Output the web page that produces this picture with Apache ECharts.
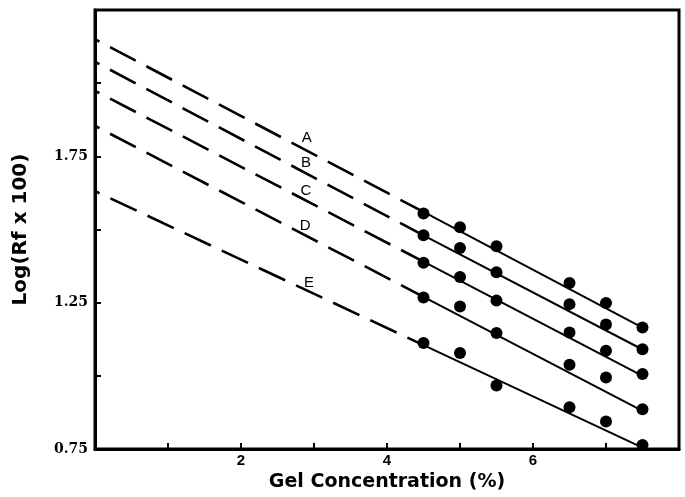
<!DOCTYPE html>
<html>
<head>
<meta charset="utf-8">
<script src="https://cdn.jsdelivr.net/npm/echarts@6/dist/echarts.min.js"></script>
<style>html,body{margin:0;padding:0;background:#fff}#c{width:685px;height:497px}</style>
</head>
<body>
<div id="c"></div>
<script>
// Gel concentrations (%) where measurements were taken
const xPoints = [4.5, 5, 5.5, 6.5, 7, 7.5];
// Measured Log(Rf x 100) for each band
const seriesNames = ['A', 'B', 'C', 'D', 'E'];
const valuesA = [1.555, 1.508, 1.443, 1.317, 1.249, 1.165];
const valuesB = [1.480, 1.437, 1.354, 1.245, 1.175, 1.091];
const valuesC = [1.386, 1.338, 1.257, 1.148, 1.086, 1.006];
const valuesD = [1.268, 1.237, 1.146, 1.038, 0.994, 0.886];
const valuesE = [1.112, 1.078, 0.967, 0.893, 0.844, 0.764];
// Fitted regression lines: x where extrapolation starts, fit begins, fit ends
const fitX = [0, 4.5, 7.5];
const fitA = [2.150, 1.560, 1.165];
const fitB = [2.073, 1.480, 1.090];
const fitC = [1.974, 1.390, 1.000];
const fitD = [1.854, 1.270, 0.880];
const fitE = [1.631, 1.105, 0.755];
// Line label anchors (data coordinates)
const labelX = [2.90, 2.89, 2.89, 2.88, 2.93];
const labelY = [1.812, 1.729, 1.633, 1.513, 1.317];
// Axis tick labels
const xTickLabels = [2, 4, 6];
const yTickLabels = [0.75, 1.25, 1.75];

const allValues = [valuesA, valuesB, valuesC, valuesD, valuesE];
const allFits = [fitA, fitB, fitC, fitD, fitE];

const series = [];
allFits.forEach((f, i) => {
  series.push({
    type: 'line', name: seriesNames[i] + ' extrapolated', symbol: 'none', silent: true,
    data: [[fitX[0], f[0]], [fitX[1], f[1]]],
    lineStyle: { color: '#000', width: 2.6, opacity: 1, type: [29, 12], dashOffset: 24 }
  });
  series.push({
    type: 'line', name: seriesNames[i] + ' fit', symbol: 'none', silent: true,
    data: [[fitX[1], f[1]], [fitX[2], f[2]]],
    lineStyle: { color: '#000', width: 2, opacity: 1, type: 'solid' }
  });
});
allValues.forEach((v, i) => {
  series.push({
    type: 'scatter', name: seriesNames[i], clip: false, symbol: 'circle', symbolSize: 12,
    itemStyle: { color: '#000', opacity: 1 },
    data: xPoints.map((x, j) => [x, v[j]])
  });
});
series.push({
  type: 'scatter', name: 'labels', symbolSize: 1, silent: true,
  itemStyle: { color: 'rgba(0,0,0,0)', opacity: 1 },
  data: seriesNames.map((n, i) => ({ value: [labelX[i], labelY[i]], name: n })),
  label: { show: true, position: 'inside', formatter: p => p.name, color: '#000', opacity: 1,
           fontFamily: 'Liberation Sans, Arial, sans-serif', fontSize: 15 }
});

const chart = echarts.init(document.getElementById('c'));
chart.setOption({
  backgroundColor: '#fff',
  animation: false,
  grid: { left: 95, right: 6, top: 10, bottom: 48, show: true, borderColor: '#000', borderWidth: 3 },
  xAxis: {
    type: 'value', min: 0, max: 8, interval: 1,
    name: 'Gel Concentration (%)', nameLocation: 'middle', nameGap: 17,
    nameTextStyle: { fontFamily: 'DejaVu Sans', fontWeight: 'bold', fontSize: 19, color: '#000' },
    axisLine: { lineStyle: { color: '#000', width: 3 } },
    axisTick: { inside: true, length: 6, lineStyle: { color: '#000', width: 2 } },
    splitLine: { show: false },
    axisLabel: { margin: 4, color: '#000', fontFamily: 'Liberation Sans, Arial', fontWeight: 'bold', fontSize: 15,
                 formatter: v => xTickLabels.includes(v) ? String(v) : '' }
  },
  yAxis: {
    type: 'value', min: 0.75, max: 2.25, interval: 0.25,
    name: 'Log(Rf x 100)', nameLocation: 'middle', nameGap: 64,
    nameTextStyle: { fontFamily: 'DejaVu Sans', fontWeight: 'bold', fontSize: 20, color: '#000' },
    axisLine: { lineStyle: { color: '#000', width: 3 } },
    axisTick: { inside: true, length: 6, lineStyle: { color: '#000', width: 2 } },
    splitLine: { show: false },
    axisLabel: { margin: 7, color: '#000', fontFamily: 'DejaVu Serif', fontWeight: 'bold', fontSize: 14,
                 formatter: v => yTickLabels.some(t => Math.abs(t - v) < 1e-6) ? v.toFixed(2) : '' }
  },
  series: series
});
</script>
</body>
</html>
